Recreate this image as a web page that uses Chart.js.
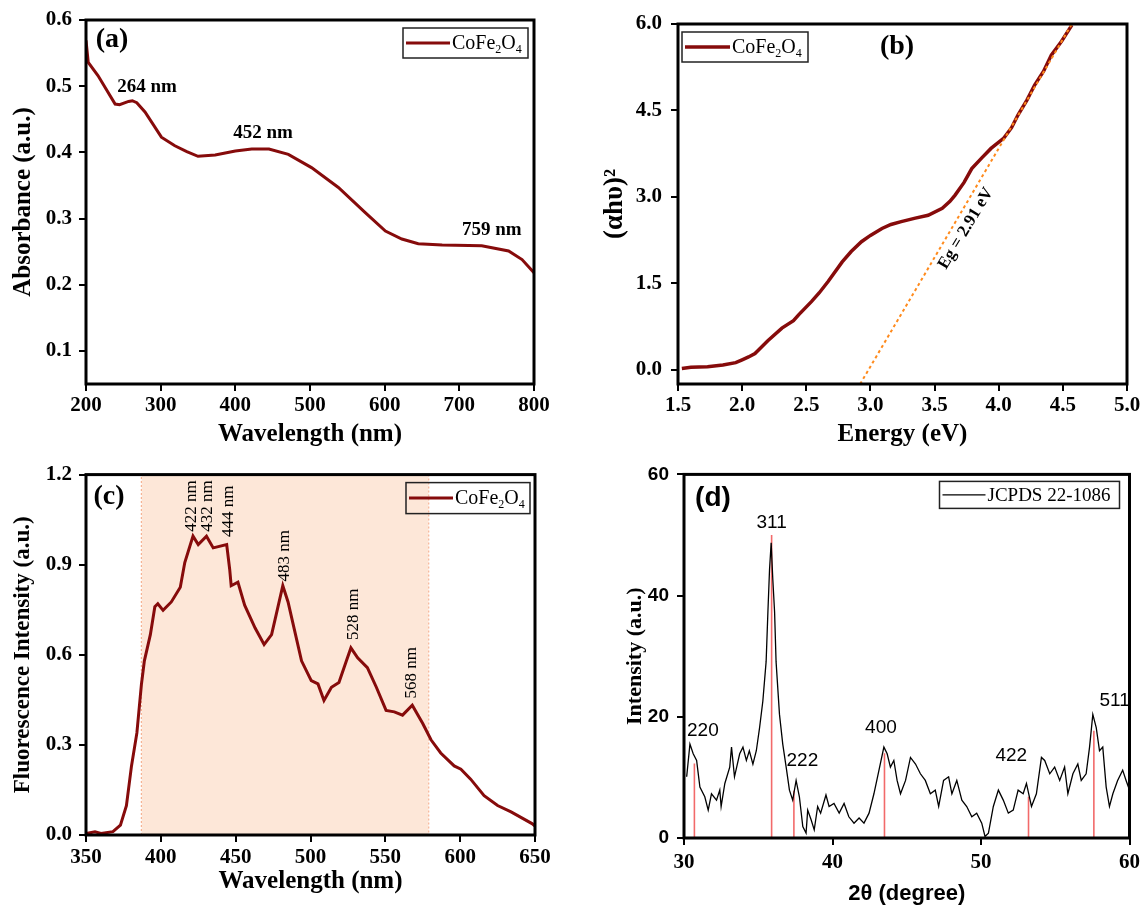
<!DOCTYPE html>
<html>
<head>
<meta charset="utf-8">
<script src="https://cdn.jsdelivr.net/npm/chart.js@4.4.0/dist/chart.umd.min.js"></script>
<style>
  body { margin: 0; background: #fff; width: 1145px; height: 907px; position: relative; overflow: hidden; }
  canvas { position: absolute; }
</style>
</head>
<body>
<canvas id="ca" width="570" height="455" style="left:0;top:0"></canvas>
<canvas id="cb" width="575" height="455" style="left:570px;top:0"></canvas>
<canvas id="cc" width="570" height="452" style="left:0;top:455px"></canvas>
<canvas id="cd" width="575" height="452" style="left:570px;top:455px"></canvas>
<script>
// ---- data ----
// (a) UV-vis absorbance
const wlA  = [200, 203, 216, 239, 245, 257, 262, 268, 279, 301, 319, 335, 350, 373, 400, 422, 445, 471, 502, 538, 574, 601, 623, 645, 677, 730, 766, 784, 800];
const absA = [0.569, 0.536, 0.516, 0.473, 0.472, 0.477, 0.478, 0.475, 0.461, 0.423, 0.410, 0.401, 0.394, 0.396, 0.402, 0.405, 0.405, 0.397, 0.377, 0.347, 0.309, 0.281, 0.269, 0.262, 0.260, 0.259, 0.251, 0.238, 0.218];
const xTicksA = [200, 300, 400, 500, 600, 700, 800];
const yTicksA = [0.1, 0.2, 0.3, 0.4, 0.5, 0.6];
const peakTextA = ['264 nm', '452 nm', '759 nm'];
const peakXA = [281.7, 437, 743.5];
const peakYA = [0.498, 0.429, 0.282];

// (b) Tauc plot
const eB   = [1.53, 1.60, 1.73, 1.85, 1.95, 2.00, 2.05, 2.10, 2.20, 2.31, 2.40, 2.44, 2.54, 2.60, 2.67, 2.78, 2.85, 2.93, 3.00, 3.09, 3.16, 3.24, 3.35, 3.45, 3.56, 3.62, 3.66, 3.73, 3.79, 3.87, 3.94, 4.04, 4.10, 4.15, 4.22, 4.28, 4.35, 4.41, 4.49, 4.57];
const ahvB = [0.02, 0.04, 0.05, 0.08, 0.12, 0.17, 0.22, 0.28, 0.50, 0.72, 0.85, 0.95, 1.18, 1.33, 1.53, 1.87, 2.05, 2.22, 2.33, 2.45, 2.52, 2.57, 2.63, 2.68, 2.80, 2.92, 3.03, 3.25, 3.49, 3.68, 3.84, 4.02, 4.20, 4.42, 4.68, 4.94, 5.18, 5.46, 5.70, 5.98];
const fitXB = [2.92, 4.57];
const fitYB = [-0.25, 6.0];
const xTicksB = [1.5, 2.0, 2.5, 3.0, 3.5, 4.0, 4.5, 5.0];
const yTicksB = [0.0, 1.5, 3.0, 4.5, 6.0];

// (c) fluorescence
const wlC  = [350, 356, 360, 368, 373, 377, 380.4, 384, 387, 389, 393, 396, 398, 401.5, 407, 413, 416, 421.5, 425, 430.5, 435, 444, 446, 447, 451.5, 456, 463, 469, 474, 477, 481.5, 485, 489, 494, 500.5, 505, 509, 514, 519, 524, 527, 531.5, 538, 544, 550.5, 556, 561.5, 568, 575, 580.5, 587, 596, 600.5, 607, 616, 625, 634, 648, 650];
const intC = [0.005, 0.011, 0.005, 0.011, 0.033, 0.098, 0.23, 0.34, 0.50, 0.58, 0.667, 0.76, 0.77, 0.748, 0.776, 0.825, 0.907, 0.995, 0.967, 0.995, 0.956, 0.967, 0.885, 0.83, 0.842, 0.765, 0.689, 0.634, 0.667, 0.732, 0.83, 0.776, 0.689, 0.58, 0.514, 0.503, 0.448, 0.492, 0.508, 0.58, 0.623, 0.59, 0.557, 0.492, 0.415, 0.41, 0.399, 0.432, 0.371, 0.317, 0.273, 0.23, 0.219, 0.186, 0.131, 0.098, 0.077, 0.038, 0.03];
const shadeC = [387, 579];
const xTicksC = [350, 400, 450, 500, 550, 600, 650];
const yTicksC = [0.0, 0.3, 0.6, 0.9, 1.2];
const peakTextC = ['422 nm', '432 nm', '444 nm', '483 nm', '528 nm', '568 nm'];
const peakXC = [420.5, 431, 445.3, 482.7, 528.7, 567.3];
const peakYC = [1.095, 1.095, 1.078, 0.93, 0.735, 0.54];

// (d) XRD
const thD  = [30.18, 30.4, 30.62, 30.85, 31.07, 31.4, 31.63, 31.85, 32.19, 32.41, 32.5, 32.75, 33.08, 33.2, 33.4, 33.75, 33.97, 34.2, 34.4, 34.64, 34.87, 35.09, 35.31, 35.53, 35.65, 35.76, 35.87, 35.98, 36.1, 36.2, 36.43, 36.65, 36.88, 37.1, 37.32, 37.55, 37.77, 38.0, 38.22, 38.33, 38.56, 38.77, 39.0, 39.2, 39.56, 39.77, 40.1, 40.45, 40.78, 41.1, 41.45, 41.79, 42.12, 42.46, 42.79, 43.13, 43.46, 43.68, 43.9, 44.13, 44.35, 44.58, 44.92, 45.25, 45.59, 45.92, 46.25, 46.59, 46.92, 47.15, 47.48, 47.82, 48.04, 48.37, 48.71, 49.04, 49.38, 49.71, 50.05, 50.27, 50.5, 50.83, 51.17, 51.5, 51.84, 52.17, 52.5, 52.84, 53.06, 53.4, 53.73, 54.07, 54.29, 54.63, 54.96, 55.3, 55.63, 55.85, 56.19, 56.52, 56.75, 57.08, 57.31, 57.53, 57.76, 57.98, 58.2, 58.43, 58.65, 58.88, 59.2, 59.54, 59.77, 60.0];
const intD = [10.1, 15.5, 13.9, 12.8, 8.4, 6.8, 4.6, 7.3, 6.25, 7.9, 5.2, 9.0, 11.7, 15.0, 10.1, 13.9, 15.0, 12.8, 14.4, 12.2, 14.4, 18.2, 22.6, 29.1, 37.3, 44.3, 48.7, 42.7, 37.3, 29.1, 20.4, 15.5, 11.7, 7.9, 6.25, 9.5, 6.8, 1.9, 0.8, 4.6, 3.0, 1.35, 5.2, 4.1, 7.1, 5.2, 5.7, 4.1, 5.7, 3.5, 2.45, 3.3, 2.45, 4.1, 7.3, 11.2, 15.0, 13.9, 11.7, 12.8, 9.5, 7.3, 9.5, 13.3, 12.2, 10.6, 9.5, 7.3, 7.9, 5.2, 9.5, 10.1, 7.3, 9.5, 6.25, 5.2, 3.5, 4.1, 2.45, 0.25, 0.8, 5.2, 7.9, 6.25, 4.1, 4.6, 7.9, 7.3, 9.0, 5.2, 7.3, 13.3, 12.8, 10.6, 11.7, 9.5, 11.7, 7.3, 10.6, 12.2, 9.5, 10.6, 15.0, 20.4, 18.2, 14.4, 15.0, 8.4, 5.2, 7.3, 9.5, 11.2, 9.5, 7.9];
const refXD = [30.7, 35.9, 37.4, 43.5, 53.2, 57.6];
const refYD = [12.3, 50, 7.8, 14, 6.8, 17.7];
const hklD = ['220', '311', '222', '400', '422', '511'];
const hklXD = [31.27, 35.9, 37.97, 43.26, 52.04, 59.0];
const hklYD = [17.7, 52.0, 12.8, 18.2, 13.6, 22.6];
const xTicksD = [30, 40, 50, 60];
const yTicksD = [0, 20, 40, 60];

// ---- styling ----
const SERIF = '"Liberation Serif", "Times New Roman", serif';
const SANS = '"Liberation Sans", Arial, sans-serif';
const MAROON = '#860b0b';
const FE = [['CoFe', 0], ['2', 1], ['O', 0], ['4', 1]];
Chart.defaults.color = '#000';
Chart.defaults.font.family = SERIF;

function pts(xs, ys) { return xs.map((x, i) => ({x: x, y: ys[i]})); }

function drawRich(ctx, parts, x, y, size, family) {
  ctx.textAlign = 'left';
  ctx.textBaseline = 'middle';
  parts.forEach(p => {
    const s = p[1] ? size * 0.6 : size;
    ctx.font = s + 'px ' + family;
    ctx.fillText(p[0], x, y + (p[1] ? size * 0.28 : 0));
    x += ctx.measureText(p[0]).width;
  });
}

// frame, legend box, panel tag and annotations
const decor = {
  id: 'decor',
  afterDatasetsDraw(chart, args, o) {
    const {ctx, chartArea: a, scales} = chart;
    ctx.save();
    ctx.strokeStyle = '#000';
    ctx.lineWidth = 3;
    ctx.strokeRect(a.left, a.top, a.right - a.left, a.bottom - a.top);

    ctx.fillStyle = '#000';
    (o.texts || []).forEach(t => {
      ctx.save();
      ctx.translate(scales.x.getPixelForValue(t.x), scales.y.getPixelForValue(t.y));
      ctx.rotate((t.rot || 0) * Math.PI / 180);
      ctx.font = t.font;
      ctx.textAlign = 'center';
      ctx.textBaseline = 'middle';
      ctx.fillText(t.text, 0, 0);
      ctx.restore();
    });

    const g = o.tag;
    ctx.font = g.font;
    ctx.textAlign = 'center';
    ctx.textBaseline = 'middle';
    ctx.fillText(g.text, a.left + g.dx, a.top + g.dy);

    const L = o.legend;
    const bx = L.right != null ? a.right - L.right - L.w : a.left + L.left;
    const by = a.top + L.top;
    ctx.lineWidth = 1.5;
    ctx.strokeStyle = '#222';
    ctx.strokeRect(bx, by, L.w, L.h);
    ctx.beginPath();
    ctx.moveTo(bx + 3, by + L.h / 2);
    ctx.lineTo(bx + L.line, by + L.h / 2);
    ctx.strokeStyle = L.color;
    ctx.lineWidth = L.lw;
    ctx.stroke();
    ctx.fillStyle = '#000';
    drawRich(ctx, L.parts, bx + L.line + 2, by + L.h / 2 + 1, L.size, SERIF);
    ctx.restore();
  }
};

function axis(c) {
  return {
    type: 'linear', min: c.min, max: c.max,
    afterFit: c.fit,
    afterBuildTicks: s => { s.ticks = c.ticks.map(v => ({value: v})); },
    ticks: {padding: c.pad, font: c.tfont, callback: v => v.toFixed(c.dec)},
    grid: {drawOnChartArea: false, drawTicks: true, tickLength: 7, lineWidth: 2, color: '#000'},
    border: {display: false},
    title: {display: true, text: c.title, font: c.font, padding: c.tpad}
  };
}

function panel(id, area, datasets, sx, sy, decorOpts) {
  const el = document.getElementById(id);
  const W = el.width, H = el.height;
  sx.fit = s => { s.height = H - area.b; };
  sy.fit = s => { s.width = area.l; };
  return new Chart(el, {
    type: 'line',
    data: {datasets: datasets},
    options: {
      responsive: false, animation: false, events: [],
      layout: {padding: {left: 0, top: area.t, right: W - area.r, bottom: 0}},
      elements: {point: {radius: 0}, line: {tension: 0}},
      plugins: {legend: {display: false}, tooltip: {enabled: false}, decor: decorOpts},
      scales: {x: axis(sx), y: axis(sy)}
    },
    plugins: [decor]
  });
}

const tickSerif = {size: 21, weight: 'bold', family: SERIF};
const titleSerif = {size: 25, weight: 'bold', family: SERIF};

// (a)
panel('ca', {l: 86, t: 20, r: 534, b: 384},
  [{data: pts(wlA, absA), borderColor: MAROON, borderWidth: 3}],
  {min: 200, max: 800, ticks: xTicksA, dec: 0, pad: 2, tfont: tickSerif, title: 'Wavelength (nm)', font: titleSerif, tpad: {top: 0, bottom: 5}},
  {min: 0.05, max: 0.6, ticks: yTicksA, dec: 1, pad: 7, tfont: tickSerif, title: 'Absorbance (a.u.)', font: titleSerif, tpad: {top: 9, bottom: 0}},
  {
    texts: peakTextA.map((t, i) => ({text: t, x: peakXA[i], y: peakYA[i], font: 'bold 19px ' + SERIF})),
    tag: {text: '(a)', dx: 26, dy: 20, font: 'bold 28px ' + SERIF},
    legend: {right: 6, top: 8, w: 125, h: 30, line: 47, lw: 3, color: MAROON, parts: FE, size: 20}
  });

// (b)
panel('cb', {l: 108, t: 24, r: 557, b: 384},
  [
    {data: pts(fitXB, fitYB), borderColor: '#ff8a1c', borderWidth: 2, borderDash: [3, 3], order: 0},
    {data: pts(eB, ahvB), borderColor: MAROON, borderWidth: 3.5, order: 1}
  ],
  {min: 1.5, max: 5.0, ticks: xTicksB, dec: 1, pad: 2, tfont: tickSerif, title: 'Energy (eV)', font: titleSerif, tpad: {top: 0, bottom: 5}},
  {min: -0.25, max: 6.0, ticks: yTicksB, dec: 1, pad: 9, tfont: tickSerif, title: '(αhυ)²', font: {size: 27, weight: 'bold', family: SERIF}, tpad: {top: 29, bottom: 0}},
  {
    texts: [{text: 'Eg = 2.91 eV', x: 3.745, y: 2.45, rot: -59, font: 'bold 17px ' + SERIF}],
    tag: {text: '(b)', dx: 219, dy: 23, font: 'bold 28px ' + SERIF},
    legend: {left: 4, top: 8, w: 126, h: 30, line: 48, lw: 3.5, color: MAROON, parts: FE, size: 20}
  });

// (c)
panel('cc', {l: 86, t: 14, r: 535, b: 380},
  [
    {data: pts(wlC, intC), borderColor: MAROON, borderWidth: 3, order: 0},
    {data: pts(shadeC, [1.2, 1.2]), borderWidth: 0, borderColor: 'rgba(0,0,0,0)', backgroundColor: '#fde7d8', fill: 'origin', order: 2},
    {data: [{x: shadeC[0], y: 0}, {x: shadeC[0], y: 1.2}, {x: shadeC[0], y: null}, {x: shadeC[1], y: 1.2}, {x: shadeC[1], y: 0}],
     borderColor: '#f6b394', borderWidth: 1.2, borderDash: [2, 2], spanGaps: false, order: 1}
  ],
  {min: 350, max: 650, ticks: xTicksC, dec: 0, pad: 3, tfont: tickSerif, title: 'Wavelength (nm)', font: titleSerif, tpad: {top: 0, bottom: 10}},
  {min: 0, max: 1.2, ticks: yTicksC, dec: 1, pad: 7, tfont: tickSerif, title: 'Fluorescence Intensity (a.u.)', font: {size: 23, weight: 'bold', family: SERIF}, tpad: {top: 9, bottom: 0}},
  {
    texts: peakTextC.map((t, i) => ({text: t, x: peakXC[i], y: peakYC[i], rot: -90, font: '17px ' + SERIF})),
    tag: {text: '(c)', dx: 23, dy: 22, font: 'bold 28px ' + SERIF},
    legend: {right: 5, top: 8, w: 124, h: 31, line: 47, lw: 3, color: MAROON, parts: FE, size: 20}
  });

// (d)
const refLines = [];
refXD.forEach((x, i) => { refLines.push({x: x, y: 0}, {x: x, y: refYD[i]}, {x: x, y: null}); });
panel('cd', {l: 114, t: 16, r: 562, b: 383},
  [
    {data: refLines, borderColor: '#f26a6a', borderWidth: 1.6, spanGaps: false, order: 1},
    {data: pts(thD, intD), borderColor: '#000', borderWidth: 1.3, order: 0}
  ],
  {min: 30, max: 60, ticks: xTicksD, dec: 0, pad: 5, tfont: {size: 21, weight: 'bold', family: SERIF}, title: '2θ (degree)', font: {size: 22, weight: 'bold', family: SANS}, tpad: {top: 0, bottom: 0}},
  {min: 0, max: 60, ticks: yTicksD, dec: 0, pad: 8, tfont: {size: 19, weight: 'bold', family: SANS}, title: 'Intensity (a.u.)', font: {size: 22, weight: 'bold', family: SERIF}, tpad: {top: 52, bottom: 0}},
  {
    texts: hklD.map((t, i) => ({text: t, x: hklXD[i], y: hklYD[i], font: '19px ' + SANS})),
    tag: {text: '(d)', dx: 29, dy: 24, font: 'bold 28px ' + SANS},
    legend: {right: 10, top: 7, w: 180, h: 27, line: 46, lw: 1.3, color: '#000', parts: [['JCPDS 22-1086', 0]], size: 19}
  });
</script>
</body>
</html>
